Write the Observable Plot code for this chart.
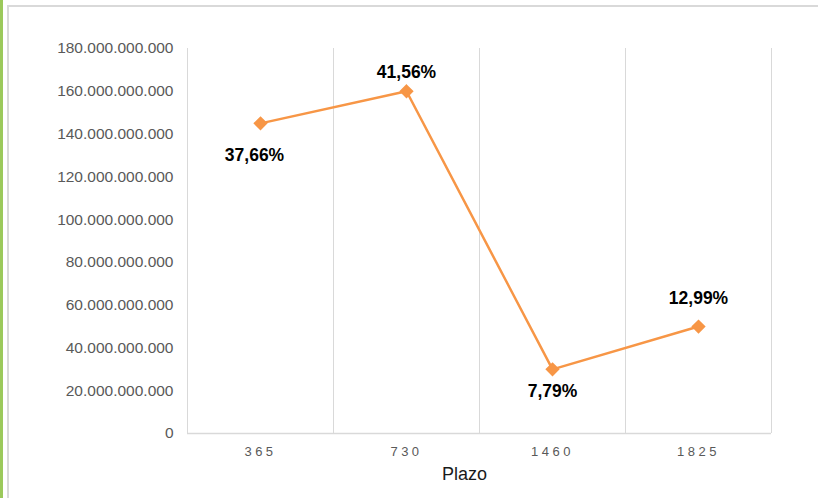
<!DOCTYPE html>
<html>
<head>
<meta charset="utf-8">
<script src="https://cdn.jsdelivr.net/npm/d3@7"></script>
<script src="https://cdn.jsdelivr.net/npm/@observablehq/plot@0.6"></script>
<style>
  html, body { margin: 0; padding: 0; background: #fff; }
  #wrap { position: relative; width: 818px; height: 498px; overflow: hidden; }
  #green { position: absolute; left: 0; top: 0; width: 3px; height: 498px; background: #9bc95b; }
  #frame { position: absolute; left: 7px; top: 5px; width: 820px; height: 500px;
           border-left: 2px solid #d9d9d9; border-top: 2px solid #d9d9d9; }
  #chart { position: absolute; left: 0; top: 0; }
  g.xax text { letter-spacing: 3.5px; }
</style>
</head>
<body>
<div id="wrap">
  <div id="green"></div>
  <div id="frame"></div>
  <div id="chart"></div>
</div>
<script>
const plazos = ["365", "730", "1460", "1825"];
const montos = [145e9, 160e9, 30e9, 50e9];
const porcentajes = ["37,66%", "41,56%", "7,79%", "12,99%"];
const yTicks = [0, 20e9, 40e9, 60e9, 80e9, 100e9, 120e9, 140e9, 160e9, 180e9];
const xLabel = "Plazo";

const data = plazos.map((p, i) => ({plazo: p, idx: i + 0.5, monto: montos[i], pct: porcentajes[i]}));
const bounds = d3.range(plazos.length + 1);

const loc = d3.formatLocale({decimal: ",", thousands: ".", grouping: [3], currency: ["", ""]});
const fmt = loc.format(",.0f");

const orange = "#f79646";
const font = "'Liberation Sans', Arial, sans-serif";

const labelMark = (i, dx, dy) => Plot.text(data, {
  filter: (d) => d.plazo === plazos[i],
  x: "idx", y: "monto", text: "pct", dx, dy,
  fontSize: 17.5, fontWeight: "bold", fill: "#000"
});

const chart = Plot.plot({
  width: 818,
  height: 498,
  marginLeft: 187,
  marginRight: 47,
  marginTop: 48,
  marginBottom: 65,
  style: {fontFamily: font, background: "transparent"},
  x: {type: "linear", domain: [0, plazos.length]},
  y: {domain: [0, 180e9]},
  marks: [
    Plot.ruleX(bounds, {stroke: "#d9d9d9", strokeWidth: 1}),
    Plot.ruleY([0], {stroke: "#d9d9d9", strokeWidth: 1.5}),
    Plot.axisY({ticks: yTicks, tickFormat: fmt, tickSize: 0, tickPadding: 14,
      fontSize: 15.5, fill: "#595959", label: null}),
    Plot.axisX({ticks: data.map(d => d.idx), tickFormat: (v) => plazos[Math.floor(v)],
      tickSize: 0, tickPadding: 13, fontSize: 13, fill: "#595959", label: null,
      className: "xax"}),
    Plot.text([xLabel], {frameAnchor: "bottom", dx: -15, dy: 46, fontSize: 18, fill: "#1a1a1a"}),
    Plot.line(data, {x: "idx", y: "monto", stroke: orange, strokeWidth: 2.5}),
    Plot.dot(data, {x: "idx", y: "monto", symbol: "diamond2", r: 5.5, fill: orange, stroke: orange}),
    labelMark(0, -6, 32),
    labelMark(1, 0, -19),
    labelMark(2, 0, 22),
    labelMark(3, 0, -28)
  ]
});
document.getElementById("chart").appendChild(chart);
</script>
</body>
</html>
